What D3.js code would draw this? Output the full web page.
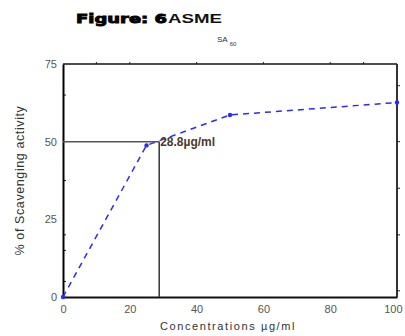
<!DOCTYPE html>
<meta charset="utf-8">
<style>
    body { margin: 0; background: #fff; }
    text { font-family: "Liberation Sans", Arial, sans-serif; }
    .tick text { fill: #555; font-size: 11px; }
</style>
<svg width="405" height="336"></svg>
<script src="https://d3js.org/d3.v7.min.js"></script>
<script>

    var concentrations = [0, 25, 50, 100];
    var scavenging = [0, 48.8, 58.6, 62.6];
    var ic50Value = 28.8;
    var ic50Level = 50;
    var xTicks = [0, 20, 40, 60, 80, 100];
    var yTicks = [0, 25, 50, 75];
    var topMinorTicks = [10, 20, 40, 60, 80, 90];
    var leftMinorTicks = [5, 15, 20, 37.5, 65];
    var rightMinorTicks = [2, 20, 35, 50, 68];

    var svg = d3.select("svg"),
        margin = { top: 64, right: 8, bottom: 39, left: 63 },
        width = +svg.attr("width") - margin.left - margin.right,
        height = +svg.attr("height") - margin.top - margin.bottom;

    var x = d3.scaleLinear().domain([0, 100]).range([0, width]);
    var y = d3.scaleLinear().domain([0, 75]).range([height, 0]);

    var g = svg.append("g")
        .attr("transform", "translate(" + margin.left + "," + margin.top + ")");

    // title
    svg.append("text")
        .attr("x", 76)
        .attr("y", 23)
        .attr("textLength", 91)
        .attr("lengthAdjust", "spacingAndGlyphs")
        .attr("fill", "#000")
        .attr("stroke", "#000")
        .attr("stroke-width", 0.9)
        .style("font-family", "'DejaVu Sans', sans-serif")
        .style("font-weight", "bold")
        .style("font-size", "13px")
        .text("Figure:  6");
    svg.append("text")
        .attr("x", 168)
        .attr("y", 23)
        .attr("textLength", 54)
        .attr("lengthAdjust", "spacingAndGlyphs")
        .attr("fill", "#111")
        .style("font-weight", "bold")
        .style("font-size", "13px")
        .text("ASME");

    var sub = svg.append("text")
        .attr("x", 217)
        .attr("y", 42)
        .attr("fill", "#333")
        .style("font-size", "8px");
    sub.append("tspan").text("SA");
    sub.append("tspan").attr("dx", 2).attr("dy", 4).style("font-size", "6px").text("60");

    // frame
    g.append("line")
        .attr("x1", 0).attr("x2", width)
        .attr("y1", 0).attr("y2", 0)
        .attr("stroke", "#111").attr("stroke-width", 1.5);
    g.append("line")
        .attr("x1", width).attr("x2", width)
        .attr("y1", 0).attr("y2", height)
        .attr("stroke", "#333").attr("stroke-width", 2);

    // minor ticks
    g.selectAll(".ttick").data(topMinorTicks).enter().append("line")
        .attr("x1", function (d) { return x(d); }).attr("x2", function (d) { return x(d); })
        .attr("y1", -2).attr("y2", 0)
        .attr("stroke", "#222");
    g.selectAll(".ltick").data(leftMinorTicks).enter().append("line")
        .attr("x1", 0).attr("x2", 3)
        .attr("y1", function (d) { return y(d); }).attr("y2", function (d) { return y(d); })
        .attr("stroke", "#222");
    g.selectAll(".rtick").data(rightMinorTicks).enter().append("line")
        .attr("x1", width).attr("x2", width + 3)
        .attr("y1", function (d) { return y(d); }).attr("y2", function (d) { return y(d); })
        .attr("stroke", "#222");

    // axes
    var xAxis = g.append("g")
        .attr("transform", "translate(0," + height + ")")
        .call(d3.axisBottom(x).tickValues(xTicks).tickSize(0).tickPadding(8));
    xAxis.select(".domain").attr("stroke", "#111").attr("stroke-width", 2);
    xAxis.selectAll(".tick text").filter(function (d) { return d === 100; })
        .attr("text-anchor", "end").attr("dx", 5);

    var yAxis = g.append("g")
        .call(d3.axisLeft(y).tickValues(yTicks).tickSize(0).tickPadding(6));
    yAxis.select(".domain").attr("stroke", "#000").attr("stroke-width", 2);

    // IC50 guide lines
    g.append("line")
        .attr("x1", x(0)).attr("x2", x(ic50Value))
        .attr("y1", y(ic50Level)).attr("y2", y(ic50Level))
        .attr("stroke", "#555").attr("stroke-width", 1.5);
    g.append("line")
        .attr("x1", x(ic50Value)).attr("x2", x(ic50Value))
        .attr("y1", y(0)).attr("y2", y(ic50Level))
        .attr("stroke", "#333").attr("stroke-width", 1.5);

    // data line
    var pts = concentrations.map(function (c, i) { return [c, scavenging[i]]; });
    var line = d3.line()
        .x(function (d) { return x(d[0]); })
        .y(function (d) { return y(d[1]); });

    g.append("path")
        .datum(pts)
        .attr("fill", "none")
        .attr("stroke", "#2a2aff")
        .attr("stroke-width", 1.5)
        .attr("stroke-dasharray", "6,5")
        .attr("d", line);

    g.selectAll(".dot").data(pts).enter().append("circle")
        .attr("cx", function (d) { return x(d[0]); })
        .attr("cy", function (d) { return y(d[1]); })
        .attr("r", 2.2)
        .attr("fill", "#2a2aff");

    g.append("text")
        .attr("x", x(ic50Value) + 1)
        .attr("y", y(ic50Level) + 4)
        .attr("fill", "#4a3a2a")
        .style("font-weight", "bold")
        .style("font-size", "12px")
        .text("28.8\u00b5g/ml");

    // axis titles
    svg.append("text")
        .attr("transform", "translate(24," + (margin.top + height / 2) + ") rotate(-90)")
        .attr("text-anchor", "middle")
        .attr("fill", "#333")
        .style("font-size", "12.5px")
        .style("letter-spacing", "0.6px")
        .text("% of Scavenging activity");

    svg.append("text")
        .attr("x", 228)
        .attr("y", 330)
        .attr("text-anchor", "middle")
        .attr("fill", "#333")
        .style("font-size", "11px")
        .style("letter-spacing", "1.6px")
        .text("Concentrations \u00b5g/ml");

</script>
